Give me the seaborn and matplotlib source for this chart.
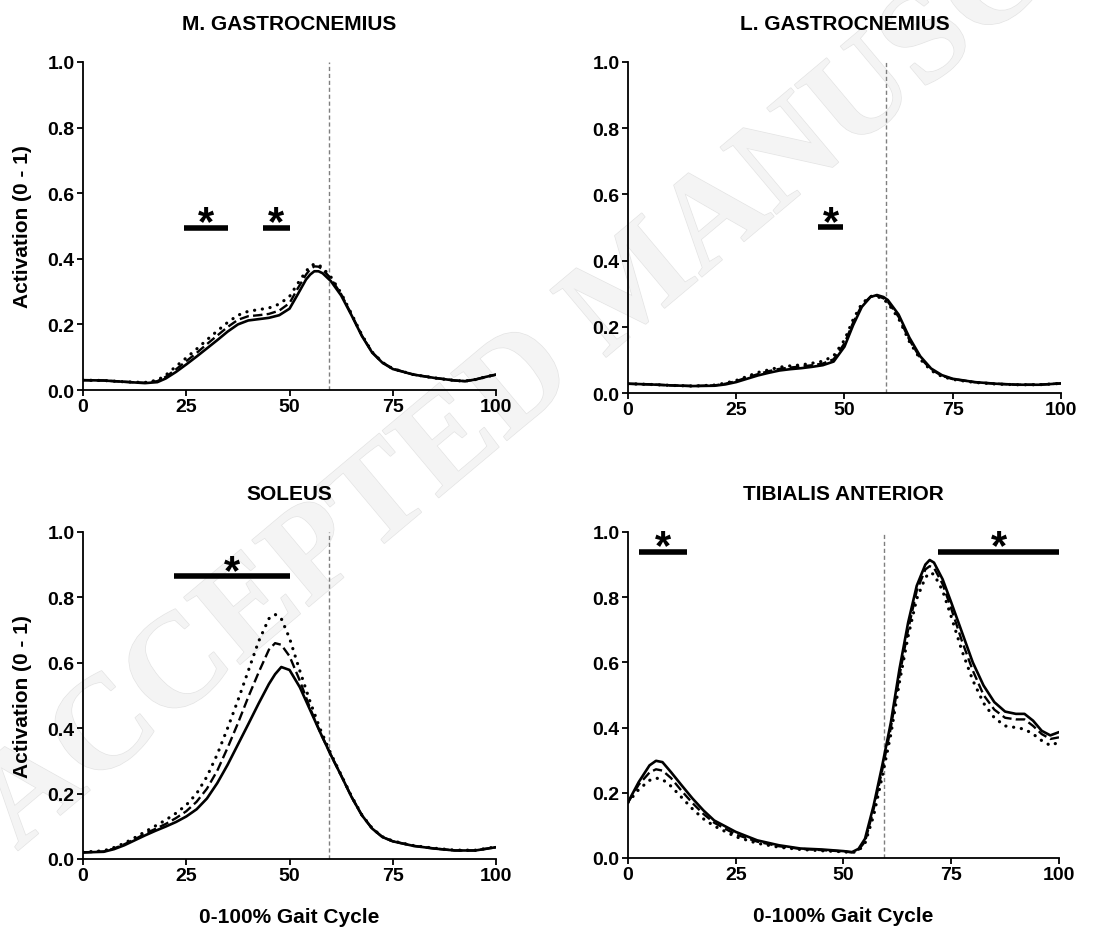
import numpy as np
import pandas as pd
import matplotlib
matplotlib.use("Agg")
import matplotlib.pyplot as plt
import matplotlib.patheffects as pe
import seaborn as sns

# ---- data (activation 0-1 vs % gait cycle) ----
mg_x = [0, 5, 10, 15, 18, 20, 22.5, 25, 27.5, 30, 32.5, 35, 37.5, 40, 42.5, 45, 47.5, 50,
        52, 54, 55, 56, 57, 58, 60, 62.5, 65, 67.5, 70, 72.5, 75, 80, 85, 90, 92.5, 95, 97.5, 100]
mg_solid = [0.030, 0.029, 0.025, 0.021, 0.024, 0.035, 0.055, 0.078, 0.102, 0.127, 0.152, 0.178,
            0.200, 0.212, 0.216, 0.220, 0.228, 0.248, 0.292, 0.337, 0.352, 0.362, 0.362, 0.356,
            0.332, 0.288, 0.228, 0.165, 0.114, 0.083, 0.064, 0.047, 0.037, 0.029, 0.027, 0.032,
            0.040, 0.047]
mg_dash = [0.030, 0.029, 0.025, 0.022, 0.027, 0.040, 0.063, 0.088, 0.113, 0.140, 0.166, 0.192,
           0.214, 0.225, 0.228, 0.232, 0.242, 0.265, 0.310, 0.352, 0.368, 0.377, 0.376, 0.368,
           0.340, 0.292, 0.230, 0.166, 0.115, 0.084, 0.065, 0.047, 0.037, 0.029, 0.027, 0.032,
           0.040, 0.047]
mg_dot = [0.030, 0.029, 0.025, 0.023, 0.030, 0.045, 0.072, 0.098, 0.125, 0.153, 0.180, 0.206,
          0.228, 0.240, 0.245, 0.250, 0.262, 0.285, 0.325, 0.362, 0.377, 0.384, 0.382, 0.372,
          0.345, 0.295, 0.232, 0.168, 0.116, 0.084, 0.065, 0.047, 0.037, 0.029, 0.027, 0.032,
          0.040, 0.047]

lg_x = [0, 5, 10, 15, 20, 22.5, 25, 27.5, 30, 32.5, 35, 37.5, 40, 42.5, 45, 47.5, 50, 52, 54,
        56, 57.5, 59, 60, 62.5, 65, 67.5, 70, 72.5, 75, 80, 85, 90, 95, 100]
lg_solid = [0.028, 0.026, 0.023, 0.021, 0.022, 0.026, 0.033, 0.043, 0.053, 0.061, 0.068, 0.072,
            0.075, 0.079, 0.084, 0.095, 0.140, 0.205, 0.260, 0.290, 0.296, 0.290, 0.281, 0.237,
            0.167, 0.111, 0.074, 0.054, 0.043, 0.033, 0.028, 0.025, 0.025, 0.029]
lg_dash = [0.028, 0.026, 0.023, 0.021, 0.023, 0.028, 0.036, 0.047, 0.057, 0.066, 0.073, 0.077,
           0.080, 0.084, 0.089, 0.102, 0.150, 0.213, 0.265, 0.291, 0.294, 0.286, 0.276, 0.230,
           0.160, 0.106, 0.071, 0.052, 0.042, 0.033, 0.028, 0.025, 0.025, 0.029]
lg_dot = [0.028, 0.026, 0.023, 0.021, 0.024, 0.030, 0.038, 0.050, 0.062, 0.070, 0.078, 0.082,
          0.085, 0.090, 0.096, 0.112, 0.160, 0.222, 0.270, 0.292, 0.292, 0.283, 0.272, 0.225,
          0.155, 0.102, 0.068, 0.050, 0.041, 0.032, 0.027, 0.025, 0.025, 0.029]

sol_x = [0, 5, 7.5, 10, 12.5, 15, 17.5, 20, 22.5, 25, 27.5, 30, 32.5, 35, 37.5, 40, 42.5, 45,
         46.5, 48, 50, 52.5, 55, 57.5, 60, 62.5, 65, 67.5, 70, 72.5, 75, 80, 85, 90, 95, 100]
sol_solid = [0.020, 0.022, 0.030, 0.042, 0.057, 0.072, 0.086, 0.099, 0.113, 0.130, 0.152, 0.185,
             0.232, 0.288, 0.350, 0.412, 0.475, 0.535, 0.565, 0.587, 0.578, 0.525, 0.455, 0.385,
             0.318, 0.255, 0.190, 0.134, 0.093, 0.067, 0.054, 0.040, 0.032, 0.026, 0.026, 0.036]
sol_dash = [0.020, 0.023, 0.032, 0.045, 0.060, 0.077, 0.092, 0.107, 0.125, 0.146, 0.175, 0.215,
            0.270, 0.340, 0.415, 0.495, 0.570, 0.640, 0.660, 0.655, 0.620, 0.545, 0.460, 0.385,
            0.318, 0.255, 0.190, 0.134, 0.093, 0.067, 0.054, 0.040, 0.032, 0.026, 0.026, 0.036]
sol_dot = [0.021, 0.025, 0.035, 0.048, 0.065, 0.083, 0.101, 0.119, 0.140, 0.165, 0.200, 0.252,
           0.320, 0.400, 0.485, 0.575, 0.665, 0.735, 0.748, 0.735, 0.675, 0.575, 0.480, 0.395,
           0.322, 0.257, 0.192, 0.135, 0.094, 0.068, 0.055, 0.041, 0.033, 0.027, 0.027, 0.037]

ta_x = [0, 2.5, 5, 6.5, 8, 10, 12.5, 15, 17.5, 20, 25, 30, 35, 40, 45, 50, 52, 53.5, 55, 57,
        59, 61, 63, 65, 67, 69, 70, 71, 73, 75, 77.5, 80, 82.5, 85, 87.5, 90, 92, 94, 96, 98, 100]
ta_solid = [0.171, 0.233, 0.284, 0.298, 0.294, 0.263, 0.222, 0.182, 0.146, 0.115, 0.080, 0.054,
            0.039, 0.029, 0.026, 0.021, 0.018, 0.028, 0.059, 0.161, 0.284, 0.416, 0.580, 0.722,
            0.835, 0.900, 0.914, 0.906, 0.855, 0.784, 0.692, 0.600, 0.529, 0.478, 0.449, 0.442,
            0.442, 0.421, 0.390, 0.376, 0.386]
ta_dash = [0.170, 0.225, 0.262, 0.272, 0.268, 0.245, 0.205, 0.168, 0.135, 0.108, 0.072, 0.050,
           0.036, 0.028, 0.024, 0.020, 0.017, 0.025, 0.050, 0.150, 0.270, 0.400, 0.560, 0.700,
           0.820, 0.885, 0.895, 0.890, 0.840, 0.765, 0.665, 0.575, 0.500, 0.455, 0.430, 0.425,
           0.425, 0.405, 0.380, 0.365, 0.370]
ta_dot = [0.170, 0.210, 0.238, 0.245, 0.241, 0.220, 0.185, 0.150, 0.120, 0.098, 0.065, 0.045,
          0.033, 0.026, 0.022, 0.019, 0.016, 0.022, 0.045, 0.130, 0.250, 0.380, 0.540, 0.680,
          0.795, 0.860, 0.875, 0.870, 0.820, 0.740, 0.635, 0.545, 0.475, 0.430, 0.405, 0.400,
          0.395, 0.380, 0.360, 0.345, 0.355]

titles = ["M. GASTROCNEMIUS", "L. GASTROCNEMIUS", "SOLEUS", "TIBIALIS ANTERIOR"]
toe_off = 59.5
# significance bars: (start, end, height)
sig_bars = [
    [(24.5, 35, 0.495), (43.5, 50, 0.495)],
    [(44, 49.7, 0.50)],
    [(22, 50, 0.865)],
    [(2.5, 13.7, 0.94), (72, 100, 0.94)],
]
x_ticks = [0, 25, 50, 75, 100]
y_ticks = [0.0, 0.2, 0.4, 0.6, 0.8, 1.0]

panels = [
    (mg_x, mg_solid, mg_dash, mg_dot),
    (lg_x, lg_solid, lg_dash, lg_dot),
    (sol_x, sol_solid, sol_dash, sol_dot),
    (ta_x, ta_solid, ta_dash, ta_dot),
]

sns.set_style("ticks")
plt.rcParams["font.family"] = ["Liberation Sans", "DejaVu Sans"]
plt.rcParams["font.weight"] = "bold"
plt.rcParams["axes.labelweight"] = "bold"
plt.rcParams["axes.titleweight"] = "bold"
plt.rcParams["text.color"] = "black"
plt.rcParams["axes.labelcolor"] = "black"
plt.rcParams["axes.edgecolor"] = "black"
plt.rcParams["xtick.color"] = "black"
plt.rcParams["ytick.color"] = "black"

fig = plt.figure(figsize=(11.16, 9.37), dpi=100)

# faint watermark behind everything
wm = fig.text(0.57, 0.69, "ACCEPTED MANUSCRIPT", rotation=40, fontsize=96,
              family="Liberation Serif", color="#f4f4f4", ha="center", va="center",
              zorder=-5, rotation_mode="anchor")
wm.set_path_effects([pe.Stroke(linewidth=1.0, foreground="#e4e4e4"), pe.Normal()])

rects = [
    [0.0744, 0.5827, 0.3701, 0.3501],
    [0.5627, 0.5795, 0.3880, 0.3533],
    [0.0744, 0.0822, 0.3701, 0.3490],
    [0.5627, 0.0833, 0.3862, 0.3479],
]

for i, (rect, (xs, s, d, o)) in enumerate(zip(rects, panels)):
    ax = fig.add_axes(rect)
    ax.set_facecolor("none")
    df = pd.DataFrame({"x": xs, "solid": s, "dashed": d, "dotted": o})
    sns.lineplot(data=df, x="x", y="dotted", ax=ax, color="black", lw=2.3,
                 linestyle=(0, (0.05, 2.4)), dash_capstyle="round", zorder=3)
    sns.lineplot(data=df, x="x", y="dashed", ax=ax, color="black", lw=1.7,
                 linestyle=(0, (4, 1.8)), zorder=4)
    sns.lineplot(data=df, x="x", y="solid", ax=ax, color="black", lw=1.9, zorder=5)

    ax.axvline(toe_off, color="#7f7f7f", lw=1.0, linestyle=(0, (3, 2)), zorder=2)

    for (x0, x1, h) in sig_bars[i]:
        ax.plot([x0, x1], [h, h], color="black", lw=4, solid_capstyle="butt",
                clip_on=False, zorder=6)
        ax.text((x0 + x1) / 2, h + 0.075, "*", ha="center", va="top", fontsize=30,
                fontweight="bold", clip_on=False, zorder=6)

    ax.set_xlim(0, 100)
    ax.set_ylim(0, 1)
    ax.set_xticks(x_ticks)
    ax.set_yticks(y_ticks)
    ax.set_yticklabels([f"{v:.1f}" for v in y_ticks])
    ax.tick_params(labelsize=14, length=4, width=1.3, pad=2, direction="out",
                   colors="black")
    for t in ax.get_xticklabels() + ax.get_yticklabels():
        t.set_fontweight("bold")
    for sp in ["top", "right"]:
        ax.spines[sp].set_visible(False)
    for sp in ["left", "bottom"]:
        ax.spines[sp].set_linewidth(1.3)
        ax.spines[sp].set_color("black")
    ax.set_title(titles[i], fontsize=15, fontweight="bold", pad=24)

    ax.set_ylabel("Activation (0 - 1)" if i % 2 == 0 else "", fontsize=15,
                  fontweight="bold", labelpad=11)
    ax.set_xlabel("0-100% Gait Cycle" if i >= 2 else "", fontsize=15,
                  fontweight="bold", labelpad=16)

fig.savefig("out.png", dpi=100)
